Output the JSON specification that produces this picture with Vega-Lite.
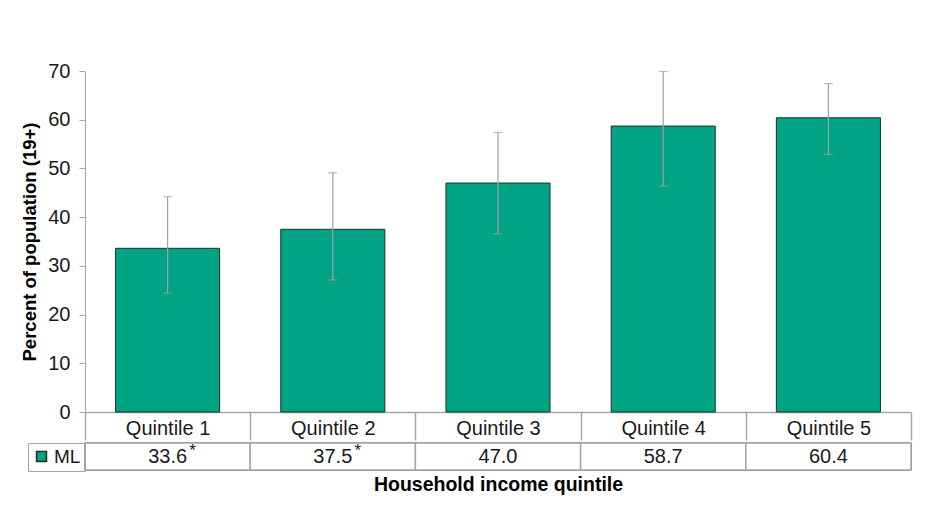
{
  "$schema": "https://vega.github.io/schema/vega-lite/v6.json",
  "background": "white",
  "padding": {"top": 61, "left": 20, "right": 5, "bottom": 5},
  "config": {
    "font": "Liberation Sans",
    "view": {"stroke": null},
    "concat": {"spacing": 0}
  },
  "data": {
    "values": [
      {"q": "Quintile 1", "pct": 33.6, "lo": 24.4, "hi": 44.2, "flag": "*", "series": "ML"},
      {"q": "Quintile 2", "pct": 37.5, "lo": 27.1, "hi": 49.1, "flag": "*", "series": "ML"},
      {"q": "Quintile 3", "pct": 47.0, "lo": 36.6, "hi": 57.4, "flag": "", "series": "ML"},
      {"q": "Quintile 4", "pct": 58.7, "lo": 46.4, "hi": 69.9, "flag": "", "series": "ML"},
      {"q": "Quintile 5", "pct": 60.4, "lo": 52.9, "hi": 67.4, "flag": "", "series": "ML"}
    ]
  },
  "resolve": {"legend": {"fill": "independent"}},
  "vconcat": [
    {
      "width": 826,
      "height": 341,
      "encoding": {
        "x": {
          "field": "q", "type": "nominal", "sort": null,
          "scale": {"paddingInner": 0, "paddingOuter": 0},
          "axis": {
            "title": null, "labelAngle": 0, "labelFontSize": 20, "labelColor": "#1a1a1a",
            "labelPadding": -22, "tickBand": "extent", "tickSize": 28, "tickColor": "#a6a6a6",
            "domainColor": "#a6a6a6", "domainWidth": 1.5, "tickWidth": 1.5
          }
        }
      },
      "layer": [
        {
          "mark": {"type": "bar", "width": {"band": 0.63}, "fill": "#00A383", "stroke": "#1f2f2a", "strokeWidth": 1},
          "encoding": {
            "y": {
              "field": "pct", "type": "quantitative",
              "scale": {"domain": [0, 70], "nice": false},
              "axis": {
                "title": "Percent of population (19+)", "titleFontSize": 18.5, "titleFontWeight": "bold",
                "titleColor": "black", "titlePadding": 8,
                "values": [0, 10, 20, 30, 40, 50, 60, 70], "grid": false,
                "labelFontSize": 20, "labelColor": "#1a1a1a", "labelPadding": 9,
                "tickSize": 6, "tickColor": "#a6a6a6", "domainColor": "#a6a6a6"
              }
            }
          }
        },
        {
          "mark": {"type": "rule", "color": "#a0a0a0", "strokeWidth": 1.2},
          "encoding": {"y": {"field": "lo", "type": "quantitative"}, "y2": {"field": "hi"}}
        },
        {
          "mark": {"type": "tick", "color": "#a0a0a0", "size": 9, "thickness": 1.2},
          "encoding": {"y": {"field": "lo", "type": "quantitative"}}
        },
        {
          "mark": {"type": "tick", "color": "#a0a0a0", "size": 9, "thickness": 1.2},
          "encoding": {"y": {"field": "hi", "type": "quantitative"}}
        }
      ]
    },
    {
      "width": 826,
      "height": 27,
      "encoding": {
        "x": {
          "field": "q", "type": "nominal", "sort": null,
          "scale": {"paddingInner": 0, "paddingOuter": 0},
          "axis": {
            "title": "Household income quintile", "titleFontSize": 19.5, "titleFontWeight": "bold",
            "titleColor": "black", "titlePadding": 5,
            "labels": false, "ticks": false, "domain": false
          }
        }
      },
      "layer": [
        {
          "mark": {"type": "rect", "stroke": "#1f2f2a", "strokeWidth": 1},
          "encoding": {
            "fill": {
              "field": "series", "type": "nominal",
              "scale": {"range": ["#00A383"]},
              "legend": {
                "title": null, "orient": "left", "offset": 0,
                "strokeColor": "#a6a6a6", "padding": 4,
                "labelFontSize": 19, "labelColor": "#1a1a1a", "labelOffset": 3,
                "symbolType": "square", "symbolSize": 100
              }
            }
          }
        },
        {
          "mark": {"type": "rect", "fill": "white", "stroke": "#a6a6a6", "strokeWidth": 1.5},
          "encoding": {}
        },
        {
          "mark": {"type": "text", "fontSize": 20, "color": "#1a1a1a", "baseline": "middle"},
          "encoding": {"text": {"field": "pct", "type": "quantitative", "format": ".1f"}}
        },
        {
          "mark": {"type": "text", "fontSize": 17, "color": "#1a1a1a", "baseline": "middle", "dx": 25, "dy": -6},
          "encoding": {"text": {"field": "flag", "type": "nominal"}}
        }
      ]
    }
  ]
}
